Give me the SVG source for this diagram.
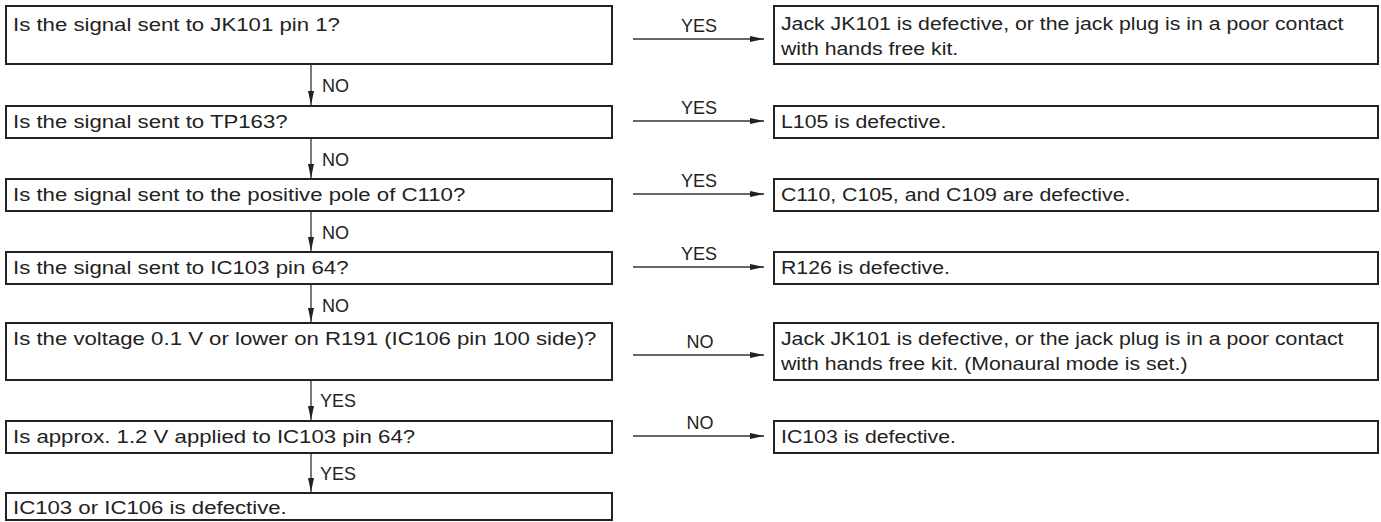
<svg xmlns="http://www.w3.org/2000/svg" width="1381" height="522" viewBox="0 0 1381 522">
<style>
  .box { fill: #ffffff; stroke: #222222; stroke-width: 2; }
  .t { font-family: "Liberation Sans", Arial, sans-serif; font-size: 18.5px; fill: #222222; }
  .lbl { font-family: "Liberation Sans", Arial, sans-serif; font-size: 18px; fill: #222222; }
  .c { text-anchor: middle; }
  .ln { stroke: #333333; stroke-width: 1.3; fill: none; marker-end: url(#ah); }
</style>
<defs>
  <marker id="ah" viewBox="0 0 14 6" refX="14" refY="3" markerWidth="14" markerHeight="6" markerUnits="userSpaceOnUse" orient="auto">
    <path d="M0,0 L14,3 L0,6 Z" fill="#222222"/>
  </marker>
</defs>
<rect width="1381" height="522" fill="#ffffff"/>

<g id="q1"><rect class="box" x="6" y="6" width="606" height="58"/><text class="t" transform="scale(1.2 1)" x="10.83" y="31">Is the signal sent to JK101 pin 1?</text></g>
<g id="q2"><rect class="box" x="6" y="106" width="606" height="32"/><text class="t" transform="scale(1.2 1)" x="10.83" y="128">Is the signal sent to TP163?</text></g>
<g id="q3"><rect class="box" x="6" y="179" width="606" height="32"/><text class="t" transform="scale(1.2 1)" x="10.83" y="201">Is the signal sent to the positive pole of C110?</text></g>
<g id="q4"><rect class="box" x="6" y="252" width="606" height="32"/><text class="t" transform="scale(1.2 1)" x="10.83" y="274">Is the signal sent to IC103 pin 64?</text></g>
<g id="q5"><rect class="box" x="6" y="323" width="606" height="57"/><text class="t" transform="scale(1.2 1)" x="10.83" y="345">Is the voltage 0.1 V or lower on R191 (IC106 pin 100 side)?</text></g>
<g id="q6"><rect class="box" x="6" y="421" width="606" height="32"/><text class="t" transform="scale(1.2 1)" x="10.83" y="443">Is approx. 1.2 V applied to IC103 pin 64?</text></g>
<g id="r7"><rect class="box" x="6" y="493" width="606" height="27"/><text class="t" transform="scale(1.2 1)" x="10.83" y="514">IC103 or IC106 is defective.</text></g>

<g id="r1"><rect class="box" x="774" y="6" width="604" height="58"/><text class="t" transform="scale(1.15 1)" x="679.13" y="30">Jack JK101 is defective, or the jack plug is in a poor contact</text><text class="t" transform="scale(1.15 1)" x="679.13" y="55">with hands free kit.</text></g>
<g id="r2"><rect class="box" x="774" y="106" width="604" height="32"/><text class="t" transform="scale(1.15 1)" x="679.13" y="128">L105 is defective.</text></g>
<g id="r3"><rect class="box" x="774" y="179" width="604" height="32"/><text class="t" transform="scale(1.15 1)" x="679.13" y="201">C110, C105, and C109 are defective.</text></g>
<g id="r4"><rect class="box" x="774" y="252" width="604" height="32"/><text class="t" transform="scale(1.15 1)" x="679.13" y="274">R126 is defective.</text></g>
<g id="r5"><rect class="box" x="774" y="323" width="604" height="57"/><text class="t" transform="scale(1.15 1)" x="679.13" y="345">Jack JK101 is defective, or the jack plug is in a poor contact</text><text class="t" transform="scale(1.15 1)" x="679.13" y="370">with hands free kit. (Monaural mode is set.)</text></g>
<g id="r6"><rect class="box" x="774" y="421" width="604" height="32"/><text class="t" transform="scale(1.15 1)" x="679.13" y="443">IC103 is defective.</text></g>

<g id="connectors">
  <line class="ln" x1="311" y1="65" x2="311" y2="105"/>
  <line class="ln" x1="311" y1="139" x2="311" y2="178"/>
  <line class="ln" x1="311" y1="212" x2="311" y2="251"/>
  <line class="ln" x1="311" y1="285" x2="311" y2="322"/>
  <line class="ln" x1="311" y1="381" x2="311" y2="420"/>
  <line class="ln" x1="311" y1="454" x2="311" y2="492"/>
  <text class="lbl" x="322" y="92">NO</text>
  <text class="lbl" x="322" y="166">NO</text>
  <text class="lbl" x="322" y="239">NO</text>
  <text class="lbl" x="322" y="312">NO</text>
  <text class="lbl" x="320" y="407">YES</text>
  <text class="lbl" x="320" y="480">YES</text>

  <line class="ln" x1="633" y1="39" x2="764" y2="39"/>
  <line class="ln" x1="633" y1="121" x2="764" y2="121"/>
  <line class="ln" x1="633" y1="194" x2="764" y2="194"/>
  <line class="ln" x1="633" y1="267" x2="764" y2="267"/>
  <line class="ln" x1="633" y1="355" x2="764" y2="355"/>
  <line class="ln" x1="633" y1="436" x2="764" y2="436"/>
  <text class="lbl c" x="699" y="32">YES</text>
  <text class="lbl c" x="699" y="114">YES</text>
  <text class="lbl c" x="699" y="187">YES</text>
  <text class="lbl c" x="699" y="260">YES</text>
  <text class="lbl c" x="700" y="348">NO</text>
  <text class="lbl c" x="700" y="429">NO</text>
</g>
</svg>
